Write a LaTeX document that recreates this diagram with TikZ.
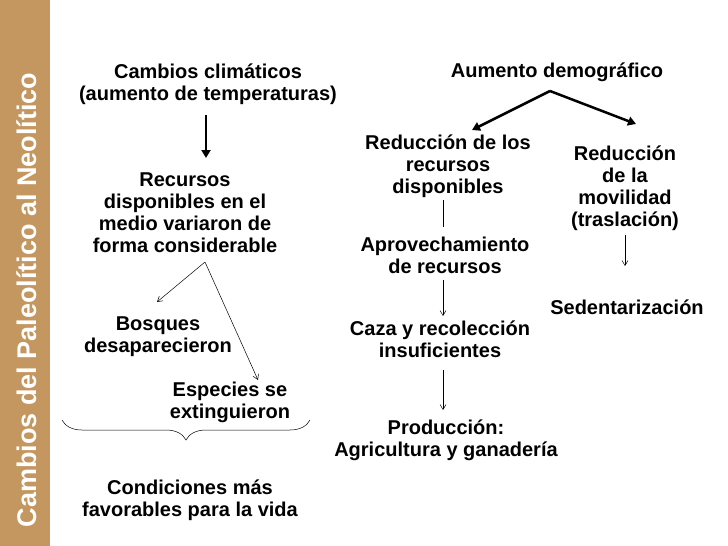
\documentclass[tikz,border=0pt]{standalone}
\usepackage{fontspec}
\setmainfont{Liberation Sans}
\usetikzlibrary{decorations.pathreplacing,arrows.meta}
\definecolor{cave}{RGB}{196,150,96}
\tikzset{lbl/.style={font=\bfseries\fontsize{20}{22}\selectfont,align=center,inner sep=0pt},
thin/.style={-{Straight Barb[length=5pt,width=6pt]},line width=0.5pt},
thick/.style={-{Triangle[length=8pt,width=9pt]},line width=2.5pt}}
\begin{document}
\begin{tikzpicture}[x=1pt,y=-1pt]
\useasboundingbox (0,0) rectangle (728,546);
\fill[white] (0,0) rectangle (728,546);
\fill[cave] (0,0) rectangle (50,546);
\node[rotate=90,text=white,font=\bfseries\fontsize{27}{27}\selectfont,inner sep=0pt] (side) at (27,300) {Cambios del Paleolítico al Neolítico};
\node[lbl] (cc) at (208,84) {Cambios climáticos\\(aumento de temperaturas)};
\node[lbl] (rec) at (185,213) {Recursos\\disponibles en el\\medio variaron de\\forma considerable};
\node[lbl] (bos) at (158,337) {Bosques\\desaparecieron};
\node[lbl] (esp) at (230,402) {Especies se\\extinguieron};
\node[lbl] (cond) at (190,500) {Condiciones más\\favorables para la vida};
\node[lbl] (aum) at (557,72) {Aumento demográfico};
\node[lbl] (red) at (448,166) {Reducción de los\\recursos\\disponibles};
\node[lbl] (mov) at (625,188) {Reducción\\de la\\movilidad\\(traslación)};
\node[lbl] (apr) at (445,255) {Aprovechamiento\\de recursos};
\node[lbl] (caz) at (440,339) {Caza y recolección\\insuficientes};
\node[lbl] (pro) at (446,440) {Producción:\\Agricultura y ganadería};
\node[lbl] (sed) at (627,307) {Sedentarización};
\coordinate (top) at (550,91);
\coordinate (rs) at (205,262);
\draw[thick] (206,115) -- (206,158);
\draw[thin] (rs) -- (157,302);
\draw[thin] (rs) -- (258,380);
\draw[decorate,decoration={brace,amplitude=20pt,mirror},line width=0.5pt] (62,420) -- (310,420);
\draw[thick] (top) -- (636,124);
\draw[thick] (top) -- (472,130);
\draw[line width=0.5pt] (443,200) -- (443,227);
\draw[thin] (443,280) -- (443,316);
\draw[thin] (443,370) -- (443,410);
\draw[thin] (625,235) -- (625,266);
\end{tikzpicture}
\end{document}
